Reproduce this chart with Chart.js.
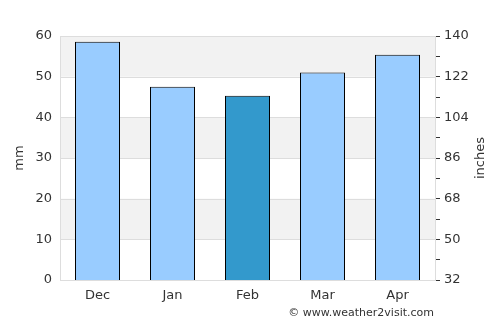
<!DOCTYPE html>
<html>
<head>
<meta charset="utf-8">
<script src="https://cdn.jsdelivr.net/npm/chart.js@4"></script>
<style>
  html, body { margin: 0; padding: 0; background: #fff; }
  #wrap { width: 500px; height: 325px; }
</style>
</head>
<body>
<div id="wrap"><canvas id="lluviaChart" width="500" height="325"></canvas></div>
<script>
// Datos del gráfico
const meses = ['Dec', 'Jan', 'Feb', 'Mar', 'Apr'];
const lluviaMm = [58.6, 47.5, 45.3, 51.0, 55.4];
const coloresBarras = ['#99ccff', '#99ccff', '#3399cc', '#99ccff', '#99ccff'];
const ticksMm = [0, 10, 20, 30, 40, 50, 60];
const ticksDerecha = [32, 50, 68, 86, 104, 122, 140];

Chart.defaults.font.family = '"DejaVu Sans", sans-serif';
Chart.defaults.color = '#333';

// Bandas grises alternas detrás de las barras, títulos de ejes y pie
const bandasPlugin = {
    id: 'bandas',
    beforeDatasetsDraw(chart) {
        const { ctx, chartArea, scales } = chart;
        const y = scales.y;
        ctx.save();
        ctx.fillStyle = '#f2f2f2';
        for (let i = 1; i < ticksMm.length; i += 2) {
            const top = y.getPixelForValue(ticksMm[i + 1] ?? ticksMm[i]);
            const bottom = y.getPixelForValue(ticksMm[i]);
            ctx.fillRect(chartArea.left, top, chartArea.right - chartArea.left, bottom - top);
        }
        // volver a pintar la rejilla encima de las bandas
        ctx.strokeStyle = '#dddddd';
        ctx.lineWidth = 1;
        ticksMm.forEach(v => {
            const py = Math.round(y.getPixelForValue(v)) + 0.5;
            ctx.beginPath();
            ctx.moveTo(chartArea.left, py);
            ctx.lineTo(chartArea.right, py);
            ctx.stroke();
        });
        ctx.strokeRect(Math.round(chartArea.left) + 0.5, Math.round(chartArea.top) + 0.5,
            Math.round(chartArea.right - chartArea.left), Math.round(chartArea.bottom - chartArea.top));
        ctx.restore();
    },
    afterDraw(chart) {
        const { ctx, chartArea } = chart;
        const midY = (chartArea.top + chartArea.bottom) / 2;
        ctx.save();
        ctx.fillStyle = '#333';
        ctx.font = '13px "DejaVu Sans", sans-serif';
        ctx.textAlign = 'center';
        ctx.textBaseline = 'middle';
        // títulos de ejes, ambos leídos de abajo hacia arriba
        [['mm', 20], ['inches', 481]].forEach(([texto, x]) => {
            ctx.save();
            ctx.translate(x, midY);
            ctx.rotate(-Math.PI / 2);
            ctx.fillText(texto, 0, 0);
            ctx.restore();
        });
        ctx.font = '11px "DejaVu Sans", sans-serif';
        ctx.textAlign = 'right';
        ctx.fillText('© www.weather2visit.com', 434, 313);
        ctx.restore();
    }
};

new Chart(document.getElementById('lluviaChart'), {
    type: 'bar',
    data: {
        labels: meses,
        datasets: [{
            label: 'mm',
            data: lluviaMm,
            backgroundColor: coloresBarras,
            borderColor: '#000',
            borderWidth: 1,
            barPercentage: 0.6,
            categoryPercentage: 1.0,
        }],
    },
    options: {
        responsive: false,
        animation: false,
        layout: { padding: { top: 36, left: 0, right: 0, bottom: 0 } },
        plugins: {
            legend: { display: false },
            tooltip: { enabled: false },
        },
        scales: {
            x: {
                grid: { display: false, drawTicks: false },
                border: { display: false },
                ticks: { font: { size: 13 }, color: '#333', padding: 8 },
                afterFit(scale) { scale.height = 45; },
            },
            y: {
                position: 'left',
                min: 0,
                max: 60,
                afterBuildTicks(scale) { scale.ticks = ticksMm.map(v => ({ value: v })); },
                grid: { display: false, drawTicks: false },
                border: { display: false },
                ticks: { font: { size: 13 }, color: '#333', padding: 8 },
                afterFit(scale) { scale.width = 60; },
            },
            y2: {
                position: 'right',
                min: 32,
                max: 140,
                afterBuildTicks(scale) {
                    const t = [];
                    for (let v = 32; v <= 140; v += 9) t.push({ value: v });
                    scale.ticks = t;
                },
                grid: {
                    drawOnChartArea: false,
                    drawTicks: true,
                    tickLength: 5,
                    color: '#333',
                },
                border: { display: false },
                ticks: {
                    font: { size: 13 },
                    color: '#333',
                    padding: 4,
                    callback: v => ticksDerecha.includes(v) ? String(v) : '',
                },
                afterFit(scale) { scale.width = 65; },
            },
        },
    },
    plugins: [bandasPlugin],
});
</script>
</body>
</html>
